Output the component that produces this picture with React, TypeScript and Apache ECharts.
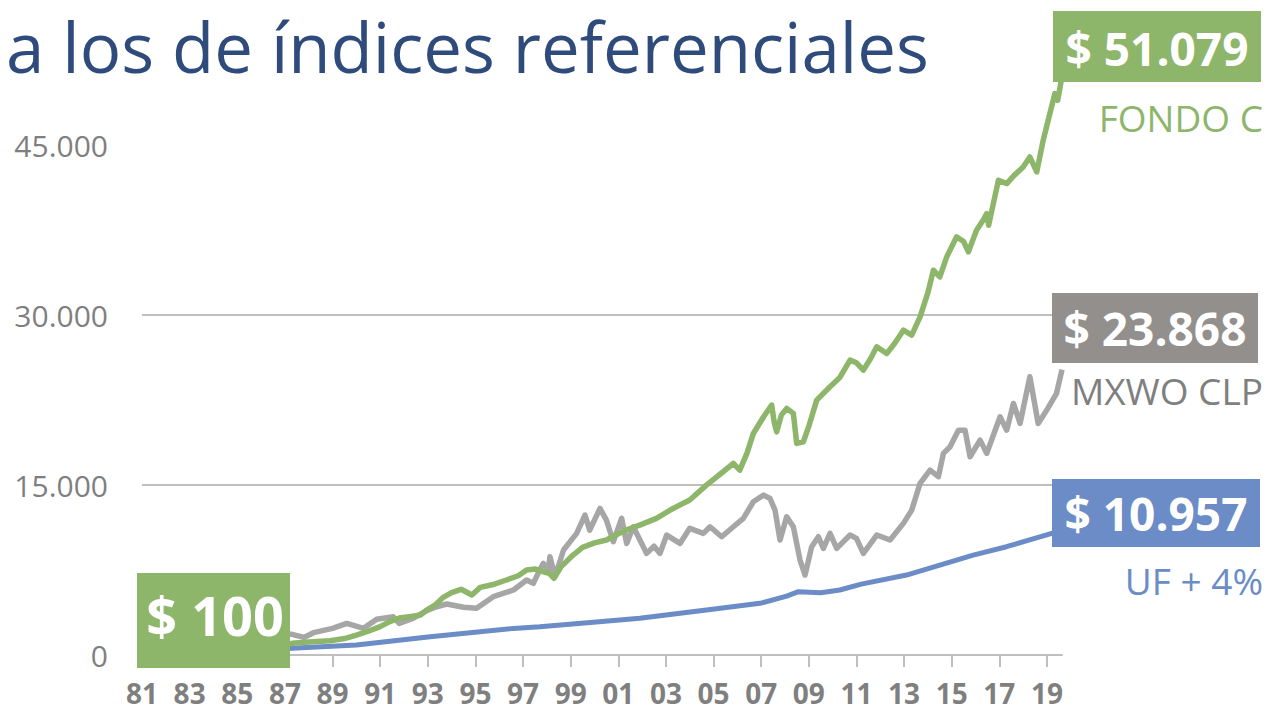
import React, { useEffect, useRef } from "react";
import * as echarts from "echarts";

const yearTicks = [1981, 1983, 1985, 1987, 1989, 1991, 1993, 1995, 1997, 1999, 2001, 2003, 2005, 2007, 2009, 2011, 2013, 2015, 2017, 2019];
const yTicks = [0, 15000, 30000, 45000];

const fondoC: [number, number][] = [
  [1981.0, 100], [1982.0, 140], [1983.0, 210], [1984.0, 300], [1985.0, 430], [1986.0, 620], [1987.0, 900],
  [1987.3, 1030], [1988.0, 1150], [1988.9, 1260], [1989.5, 1450], [1990.0, 1760], [1990.5, 2100], [1991.0, 2500],
  [1991.4, 2950], [1991.8, 3260], [1992.3, 3400], [1992.7, 3530], [1992.95, 3970], [1993.3, 4400], [1993.65, 5090],
  [1994.0, 5500], [1994.4, 5800], [1994.85, 5300], [1995.2, 5970], [1995.7, 6200], [1996.3, 6620], [1996.8, 7000],
  [1997.15, 7500], [1997.5, 7600], [1997.85, 7350], [1998.1, 7200], [1998.3, 6770], [1998.6, 7800], [1999.1, 8820],
  [1999.5, 9500], [2000.0, 9900], [2000.5, 10150], [2001.0, 10700], [2001.4, 11100], [2001.9, 11470], [2002.6, 12060],
  [2003.3, 12940], [2004.0, 13680], [2004.7, 15000], [2005.4, 16180], [2005.83, 16910], [2006.1, 16320], [2006.4, 17800],
  [2006.67, 19560], [2007.1, 21030], [2007.44, 22060], [2007.55, 20500], [2007.65, 19700], [2007.85, 21200], [2008.07, 21770],
  [2008.35, 21330], [2008.49, 18680], [2008.77, 18820], [2009.0, 20200], [2009.33, 22500], [2009.89, 23680], [2010.3, 24500],
  [2010.73, 26030], [2011.0, 25800], [2011.29, 25150], [2011.6, 26200], [2011.85, 27210], [2012.27, 26620], [2012.6, 27500],
  [2012.97, 28680], [2013.32, 28240], [2013.67, 29850], [2014.0, 32000], [2014.23, 33970], [2014.5, 33380], [2014.79, 35150],
  [2015.2, 36910], [2015.5, 36500], [2015.7, 35590], [2016.04, 37500], [2016.35, 38500], [2016.47, 38970], [2016.55, 37940],
  [2016.96, 41910], [2017.31, 41620], [2017.6, 42300], [2018.0, 43090], [2018.28, 43970], [2018.57, 42650], [2018.84, 45440],
  [2019.05, 47210], [2019.33, 49560], [2019.45, 48970], [2019.63, 51079],
];

const mxwoClp: [number, number][] = [
  [1981.0, 100], [1982.0, 150], [1983.0, 320], [1984.0, 480], [1985.0, 800], [1986.0, 1250], [1987.0, 1700],
  [1987.26, 1850], [1987.8, 1550], [1988.2, 1970], [1989.0, 2350], [1989.6, 2790], [1990.3, 2350], [1990.85, 3150],
  [1991.55, 3380], [1991.8, 2790], [1992.4, 3260], [1992.95, 3910], [1993.37, 4260], [1993.8, 4500], [1994.5, 4210],
  [1995.05, 4120], [1995.75, 5150], [1996.6, 5740], [1997.15, 6620], [1997.43, 6320], [1997.7, 7500], [1997.85, 8090],
  [1998.06, 7500], [1998.13, 8680], [1998.34, 6910], [1998.7, 9270], [1999.25, 10740], [1999.6, 12350], [1999.8, 11030],
  [2000.23, 12940], [2000.5, 11910], [2000.79, 10000], [2001.14, 12060], [2001.35, 9850], [2001.63, 11320], [2002.19, 8970],
  [2002.5, 9600], [2002.75, 8970], [2003.03, 10590], [2003.59, 9850], [2004.0, 11180], [2004.57, 10740], [2004.85, 11320],
  [2005.34, 10440], [2005.83, 11320], [2006.25, 12060], [2006.67, 13530], [2007.1, 14120], [2007.37, 13820], [2007.58, 12790],
  [2007.79, 10150], [2008.07, 12200], [2008.35, 11320], [2008.63, 8380], [2008.84, 7060], [2009.12, 9560], [2009.4, 10440],
  [2009.61, 9410], [2009.89, 10740], [2010.17, 9410], [2010.73, 10590], [2011.0, 10300], [2011.29, 8970], [2011.85, 10590],
  [2012.41, 10150], [2012.97, 11620], [2013.32, 12790], [2013.67, 15150], [2014.09, 16320], [2014.44, 15740], [2014.65, 17800],
  [2014.93, 18380], [2015.28, 19850], [2015.56, 19850], [2015.77, 17500], [2016.19, 18970], [2016.47, 17800], [2017.03, 21030],
  [2017.31, 19850], [2017.59, 22210], [2017.87, 20440], [2018.28, 24560], [2018.63, 20440], [2018.99, 21620], [2019.4, 23090],
  [2019.63, 25200],
];

const ufMas4: [number, number][] = [
  [1981.0, 100], [1983.0, 180], [1985.0, 300], [1987.3, 600], [1990.0, 880], [1993.1, 1620], [1996.6, 2350],
  [1997.7, 2500], [2000.2, 2940], [2001.9, 3240], [2004.7, 3970], [2006.95, 4560], [2008.07, 5200], [2008.56, 5590],
  [2009.5, 5500], [2010.3, 5740], [2011.2, 6260], [2013.1, 7060], [2015.9, 8820], [2017.3, 9560], [2019.2, 10740],
  [2019.63, 10957],
];

const finalLabels = ["$ 51.079", "$ 23.868", "$ 10.957"];
const seriesNames = ["FONDO C", "MXWO CLP", "UF + 4%"];
const startLabel = "$ 100";
const titleText = "a los de índices referenciales";

const GREEN = "#8db66a";
const GRAY_LINE = "#a6a6a6";
const GRAY_BOX = "#938f8d";
const BLUE = "#6b8cc6";
const FONT = "'Open Sans', 'Noto Sans', sans-serif";

function fmtThousands(v: number): string {
  const s = String(Math.round(v));
  return s.replace(/\B(?=(\d{3})+(?!\d))/g, ".");
}

export default function App() {
  const ref = useRef<HTMLDivElement>(null);
  useEffect(() => {
    if (!ref.current) return;
    const chart = echarts.init(ref.current, undefined, { renderer: "svg" });
    const box = (x: number, y: number, w: number, h: number, fill: string) => ({
      type: "rect", z: 100, shape: { x, y, width: w, height: h }, style: { fill },
    });
    const txt = (text: string, x: number, y: number, fill: string, size: number, weight: string, align: string) => ({
      type: "text", z: 101, x, y,
      style: { text, fill, fontSize: size, fontWeight: weight, fontFamily: FONT, align, verticalAlign: "middle" },
    });
    chart.setOption({
      animation: false,
      backgroundColor: "#ffffff",
      grid: { left: 142, right: 206, top: 66, bottom: 58, containLabel: false },
      xAxis: {
        type: "value",
        min: 1981,
        max: 2019.63,
        interval: 2,
        axisLine: { show: true, lineStyle: { color: "#bfbfbf", width: 2 } },
        axisTick: { show: true, length: 12, customValues: yearTicks, lineStyle: { color: "#bfbfbf", width: 2 } },
        axisLabel: {
          customValues: yearTicks,
          margin: 24,
          color: "#7f7f7f",
          fontSize: 28,
          lineHeight: 28,
          fontWeight: "bold",
          fontFamily: FONT,
          formatter: (v: number) => String(Math.round(v) % 100).padStart(2, "0"),
        },
        splitLine: { show: false },
      },
      yAxis: {
        type: "value",
        min: 0,
        max: 52000,
        interval: 15000,
        axisLine: { show: false },
        axisTick: { show: false, customValues: yTicks },
        axisLabel: {
          customValues: yTicks,
          margin: 34,
          color: "#7f7f7f",
          fontSize: 30,
          fontFamily: FONT,
          formatter: (v: number) => fmtThousands(v),
        },
        splitLine: { show: true, showMinLine: false, showMaxLine: false, lineStyle: { color: "#bfbfbf", width: 2 } },
      },
      series: [
        { name: seriesNames[2], type: "line", data: ufMas4, showSymbol: false, smooth: false, lineStyle: { color: BLUE, width: 5 }, z: 3 },
        { name: seriesNames[1], type: "line", data: mxwoClp, showSymbol: false, lineStyle: { color: GRAY_LINE, width: 5.5, join: "round" }, z: 4 },
        { name: seriesNames[0], type: "line", data: fondoC, showSymbol: false, lineStyle: { color: GREEN, width: 5.5, join: "round" }, z: 5 },
      ],
      graphic: [
        txt(titleText, 6, 46, "#2f4b7c", 69, "normal", "left"),
        box(1053, 11, 208, 71, GREEN),
        txt(finalLabels[0], 1157, 48, "#ffffff", 46, "bold", "center"),
        txt(seriesNames[0], 1263, 117, GREEN, 37, "normal", "right"),
        box(1052, 293, 206, 70, GRAY_BOX),
        txt(finalLabels[1], 1155, 328, "#ffffff", 46, "bold", "center"),
        txt(seriesNames[1], 1263, 390, "#7f7f7f", 37, "normal", "right"),
        box(1052, 479, 208, 68, BLUE),
        txt(finalLabels[2], 1156, 513, "#ffffff", 46, "bold", "center"),
        txt(seriesNames[2], 1263, 580, BLUE, 37, "normal", "right"),
        box(137, 573, 153, 95, GREEN),
        txt(startLabel, 215, 615, "#ffffff", 54, "bold", "center"),
      ],
    });
    return () => chart.dispose();
  }, []);
  return <div ref={ref} style={{ position: "absolute", left: 0, top: 0, width: 1268, height: 713 }} />;
}
